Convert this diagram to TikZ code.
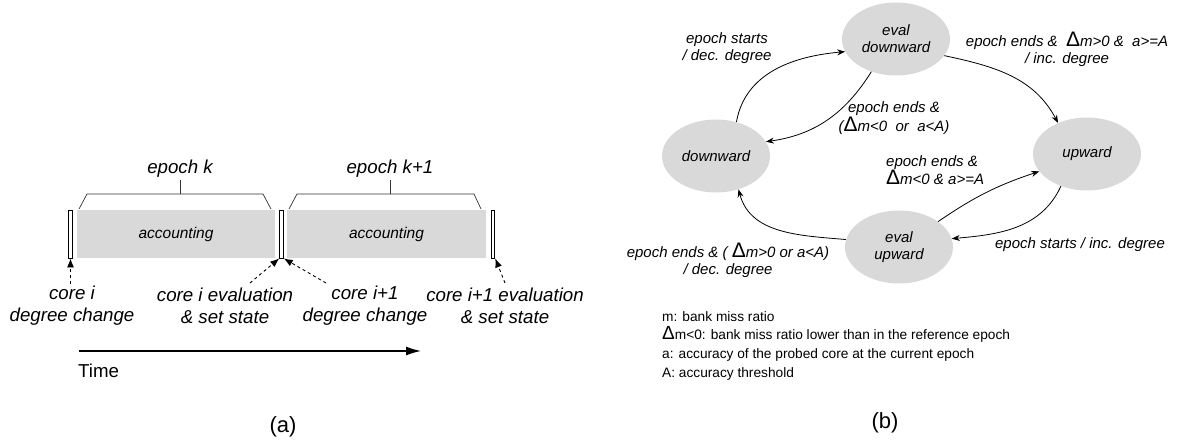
\documentclass[tikz,border=0pt]{standalone}
\usepackage{fontspec}
\setmainfont{Liberation Sans}
\usetikzlibrary{arrows.meta,shapes.geometric}
\definecolor{fillgray}{RGB}{217,217,217}
\newcommand{\Dl}{{\upshape\fontsize{21}{18}\selectfont Δ}}
\newcommand{\Dls}{{\upshape\fontsize{19}{16}\selectfont Δ}}
\begin{document}
\begin{tikzpicture}[x=1pt,y=-1pt,
  lab/.style={font=\fontsize{18.7}{22}\selectfont\itshape, align=center, inner sep=0},
  acc/.style={fill=fillgray, draw=none, minimum height=48, inner sep=0, font=\fontsize{15.5}{18}\selectfont\itshape},
  bar/.style={draw, fill=white, line width=0.9, minimum width=3.6, minimum height=48, inner sep=0},
  bracel/.style={line width=0.7, draw=black!80},
  dasharrow/.style={dashed, line width=0.9, -{Latex[length=9,width=7]}},
  timearrow/.style={line width=1.3, -{Latex[length=15,width=9]}},
  state/.style={ellipse, fill=fillgray, draw=none, minimum width=108, minimum height=73, inner sep=0, align=center, font=\fontsize{15}{17}\selectfont\itshape},
  edge/.style={line width=0.8, -{Stealth[length=8,width=6]}},
  elab/.style={font=\fontsize{15}{17}\selectfont\itshape, align=center, inner sep=0},
  capt/.style={font=\fontsize{22}{24}\selectfont, inner sep=0}
]
\useasboundingbox (0,0) rectangle (1179,441);

% ---------- (a) ----------
\node[acc, minimum width=198] (acc1) at (176,234) {accounting};
\node[acc, minimum width=199] (acc2) at (386.5,234) {accounting};
\node[bar] (b1) at (70.5,234) {};
\node[bar] (b2) at (281.5,234) {};
\node[bar] (b3) at (493,234) {};

\node[lab] (ek) at (180,169) {epoch k};
\node[lab] (ek1) at (390,169) {epoch k+1};
\coordinate (br1a) at (79,209); \coordinate (br1b) at (87,194);
\coordinate (br1c) at (263,194); \coordinate (br1d) at (271,209);
\coordinate (br1m) at (180,194); \coordinate (br1t) at (180,180);
\draw[bracel] (br1a) -- (br1b) -- (br1c) -- (br1d);
\draw[bracel] (br1m) -- (br1t);
\coordinate (br2a) at (289,209); \coordinate (br2b) at (297,194);
\coordinate (br2c) at (474,194); \coordinate (br2d) at (481,209);
\coordinate (br2m) at (390,194); \coordinate (br2t) at (390,180);
\draw[bracel] (br2a) -- (br2b) -- (br2c) -- (br2d);
\draw[bracel] (br2m) -- (br2t);

\node[lab] (t1) at (72,306) {core i\\degree change};
\node[lab] (t2) at (225,306) {core i evaluation\\\& set state};
\node[lab] (t3) at (365,306) {core i+1\\degree change};
\node[lab] (t4) at (505,306) {core i+1 evaluation\\\& set state};

\coordinate (s1) at (70.5,284);
\coordinate (s2) at (250,283);
\coordinate (s3) at (326,283);
\coordinate (s4) at (505,283);
\draw[dasharrow] (s1) -- (b1.south);
\draw[dasharrow] (s2) -- (b2.south west);
\draw[dasharrow] (s3) -- (b2.south east);
\draw[dasharrow] (s4) -- (b3.south east);

\coordinate (ta) at (79,351);
\coordinate (tb) at (421,351);
\draw[timearrow] (ta) -- (tb);
\node[font=\fontsize{18.7}{22}\selectfont, inner sep=0, anchor=west] (time) at (78,371) {Time};
\node[capt] (capa) at (283,427) {(a)};

% ---------- (b) ----------
\node[state] (evd) at (896,39) {eval\\downward};
\node[state] (dw) at (716,156) {downward};
\node[state] (up) at (1087,154) {upward};
\node[state] (evu) at (899,247) {eval\\upward};

\draw[edge] (dw.59) to[out=80, in=185] (evd.194);
\draw[edge] (evd.233) to[out=238, in=8] (dw.16);
\draw[edge] (evd.-19) to[out=-12, in=118] (up.133);
\draw[edge] (up.231) to[out=245, in=5] (evu.9);
\draw[edge] (evu.33) to[bend left=8] (up.200);
\draw[edge] (evu.172) to[out=175, in=-75] (dw.-56);

\node[elab] (l1) at (727,48) {epoch starts\\/ dec. degree};
\node[elab] (l2) at (894,118) {epoch ends \&\\(\Dl m<0\ \ or\ \ a<A)};
\node[elab] (l3) at (1067,49) {epoch ends \&\ \ \Dl m>0 \&\ \ a>=A\\/ inc. degree};
\node[elab, align=left, anchor=west] (l4) at (886,170) {epoch ends \&\\\Dl m<0 \& a>=A};
\node[elab] (l5) at (1080,245) {epoch starts / inc. degree};
\node[elab] (l6) at (728,260) {epoch ends \& ( \Dl m>0 or a<A)\\/ dec. degree};

\node[font=\fontsize{13.7}{18.7}\selectfont, align=left, anchor=north west, inner sep=0] (legend) at (662,311)
  {m: bank miss ratio\\
   \Dls m<0: bank miss ratio lower than in the reference epoch\\
   a: accuracy of the probed core at the current epoch\\
   A: accuracy threshold};
\node[capt] (capb) at (885,423) {(b)};
\end{tikzpicture}
\end{document}
